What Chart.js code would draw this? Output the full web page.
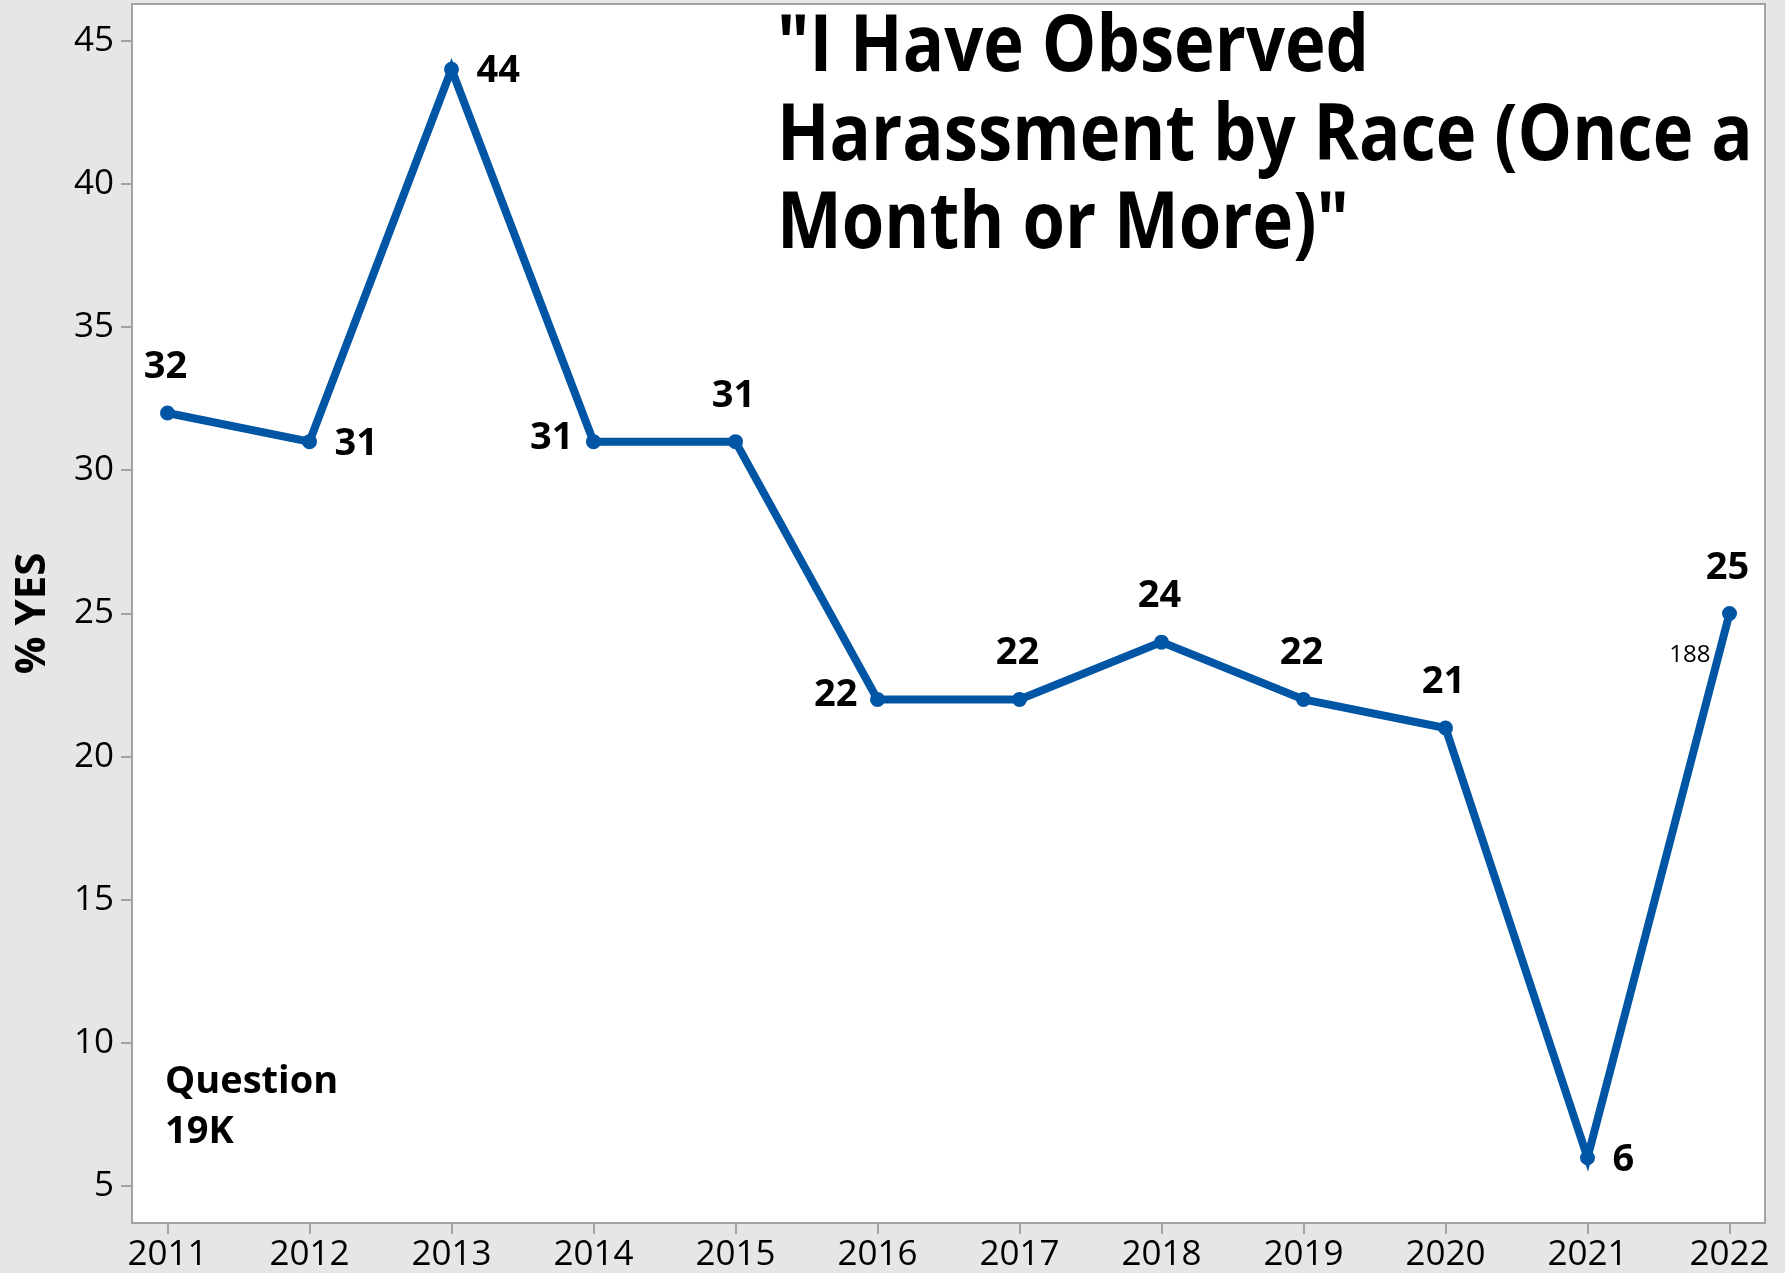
<!DOCTYPE html>
<html>
<head>
<meta charset="utf-8">
<script src="https://cdn.jsdelivr.net/npm/chart.js@4.4.1/dist/chart.umd.min.js"></script>
<style>
  html, body { margin: 0; padding: 0; background: #e6e6e6; overflow: hidden; }
  /* the line controller reserves ~9px above the plot for point overflow;
     pull the canvas up so the frame sits where Minitab put it */
  canvas { display: block; margin-top: -5px; }
</style>
</head>
<body>
<canvas id="harassChart" width="1785" height="1278" style="width:1785px;height:1278px"></canvas>
<script>
const years = [2011, 2012, 2013, 2014, 2015, 2016, 2017, 2018, 2019, 2020, 2021, 2022];
const pctYes = [32, 31, 44, 31, 31, 22, 22, 24, 22, 21, 6, 25];
const yTicks = [5, 10, 15, 20, 25, 30, 35, 40, 45];
const titleLines = ['"I Have Observed', 'Harassment by Race (Once a', 'Month or More)"'];
const noteLines = ['Question', '19K'];
const countNote = '188';

const LINE_BLUE = '#0055a5';
const FONT = '"Open Sans", "Noto Sans", sans-serif';
const SHIFT = 5; // canvas is shifted up by this much

// which side of its point each value label goes (Minitab auto placement)
const labelSide = ['top', 'right', 'right', 'left', 'top', 'left', 'top', 'top', 'top', 'top', 'right', 'top'];

const backdrop = {
  id: 'backdrop',
  beforeDraw(chart) {
    const { ctx, chartArea: a } = chart;
    ctx.save();
    ctx.fillStyle = '#e6e6e6';
    ctx.fillRect(0, 0, chart.width, chart.height);
    ctx.fillStyle = '#ffffff';
    ctx.fillRect(a.left, a.top, a.right - a.left, a.bottom - a.top);
    ctx.restore();
  },
  beforeDatasetsDraw(chart) {
    const { ctx, chartArea: a } = chart;
    ctx.save();
    ctx.strokeStyle = '#a3a3a3';
    ctx.lineWidth = 2;
    ctx.strokeRect(a.left, a.top, a.right - a.left, a.bottom - a.top);
    ctx.restore();
  }
};

const annotations = {
  id: 'annotations',
  afterDatasetsDraw(chart) {
    const { ctx, chartArea: a } = chart;
    const pts = chart.getDatasetMeta(0).data;
    ctx.save();
    ctx.fillStyle = '#000';
    ctx.textBaseline = 'alphabetic';

    // value labels
    ctx.font = 'bold 38px ' + FONT;
    pts.forEach((p, i) => {
      const txt = String(pctYes[i]);
      const side = labelSide[i];
      if (side === 'top') {
        ctx.textAlign = 'center';
        ctx.fillText(txt, p.x - 2, p.y - 35);
      } else if (side === 'right') {
        ctx.textAlign = 'left';
        ctx.fillText(txt, p.x + 25, p.y + 13);
      } else {
        ctx.textAlign = 'right';
        ctx.fillText(txt, p.x - 20, p.y + 7);
      }
    });

    // small count next to the last point
    const last = pts[pts.length - 1];
    ctx.font = '24px ' + FONT;
    ctx.textAlign = 'right';
    ctx.fillText(countNote, last.x - 19, last.y + 48);

    // question note, lower left
    ctx.font = 'bold 38px ' + FONT;
    ctx.textAlign = 'left';
    noteLines.forEach((t, i) => ctx.fillText(t, a.left + 33, SHIFT + 1093 + i * 50));

    // title, squeezed to the condensed look of the original
    ctx.font = 'bold 78px ' + FONT;
    const m = ctx.measureText(titleLines[1]);
    const sx = 965 / (m.actualBoundingBoxLeft + m.actualBoundingBoxRight);
    ctx.translate(777, 0);
    ctx.scale(sx, 1);
    titleLines.forEach((t, i) => ctx.fillText(t, 0, SHIFT + 71 + i * 88.5));
    ctx.restore();
  }
};

const tickFont = { family: FONT, size: 35 };

new Chart(document.getElementById('harassChart'), {
  type: 'line',
  data: {
    datasets: [{
      label: '% YES',
      data: years.map((y, i) => ({ x: y, y: pctYes[i] })),
      borderColor: LINE_BLUE,
      backgroundColor: LINE_BLUE,
      borderWidth: 8,
      pointRadius: 6,
      pointBorderWidth: 3,
      pointBackgroundColor: LINE_BLUE,
      pointBorderColor: LINE_BLUE,
      tension: 0,
      fill: false
    }]
  },
  options: {
    responsive: false,
    devicePixelRatio: 1,
    animation: false,
    layout: { padding: { left: 0, right: 20, top: 0, bottom: 0 } },
    plugins: {
      legend: { display: false },
      tooltip: { enabled: false }
    },
    scales: {
      x: {
        type: 'linear',
        min: 2010.75,
        max: 2022.25,
        afterBuildTicks: s => { s.ticks = years.map(v => ({ value: v })); },
        afterFit: s => { s.height = 50; s.paddingLeft = 0; s.paddingRight = 0; },
        ticks: {
          font: tickFont,
          color: '#000',
          padding: 0,
          autoSkip: false,
          maxRotation: 0,
          callback: v => String(v)
        },
        grid: { drawOnChartArea: false, tickLength: 11, color: '#a3a3a3', lineWidth: 2 },
        border: { display: false }
      },
      y: {
        min: 3.72,
        max: 46.28,
        afterBuildTicks: s => { s.ticks = yTicks.map(v => ({ value: v })); },
        afterFit: s => { s.width = 132; s.paddingTop = 0; s.paddingBottom = 0; },
        ticks: { font: tickFont, color: '#000', padding: 7 },
        grid: { drawOnChartArea: false, tickLength: 11, color: '#a3a3a3', lineWidth: 2 },
        border: { display: false },
        title: {
          display: true,
          text: '% YES',
          color: '#000',
          font: { family: FONT, size: 42, weight: 'bold' },
          padding: { top: 8, bottom: 0 }
        }
      }
    }
  },
  plugins: [backdrop, annotations]
});
</script>
</body>
</html>
